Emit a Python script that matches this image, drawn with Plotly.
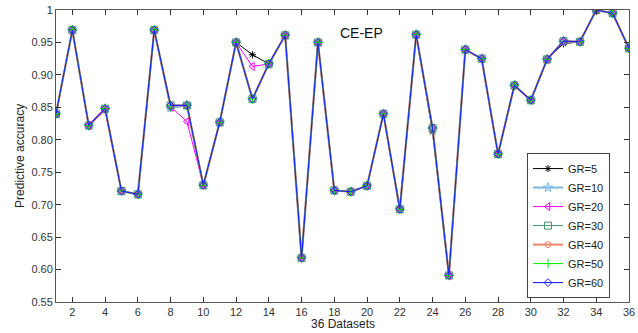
import plotly.graph_objects as go

datasets = list(range(1, 37))

gr60 = [0.840, 0.969, 0.822, 0.848, 0.721, 0.716, 0.969, 0.853, 0.853, 0.730,
        0.827, 0.950, 0.863, 0.917, 0.961, 0.618, 0.950, 0.722, 0.720, 0.729,
        0.840, 0.693, 0.962, 0.818, 0.591, 0.939, 0.925, 0.778, 0.884, 0.861,
        0.924, 0.952, 0.951, 1.000, 0.995, 0.941]
gr50 = [0.840, 0.969, 0.822, 0.848, 0.721, 0.716, 0.969, 0.853, 0.853, 0.730,
        0.827, 0.950, 0.863, 0.917, 0.961, 0.618, 0.950, 0.722, 0.720, 0.729,
        0.840, 0.693, 0.962, 0.818, 0.591, 0.939, 0.925, 0.778, 0.884, 0.861,
        0.924, 0.952, 0.951, 1.000, 0.995, 0.941]
gr40 = [0.840, 0.969, 0.822, 0.848, 0.721, 0.716, 0.969, 0.853, 0.853, 0.730,
        0.827, 0.950, 0.863, 0.917, 0.961, 0.618, 0.950, 0.722, 0.720, 0.729,
        0.840, 0.693, 0.962, 0.818, 0.591, 0.939, 0.925, 0.778, 0.884, 0.861,
        0.924, 0.952, 0.951, 1.000, 0.995, 0.941]
gr30 = [0.840, 0.969, 0.822, 0.848, 0.721, 0.716, 0.969, 0.853, 0.853, 0.730,
        0.827, 0.950, 0.863, 0.917, 0.961, 0.618, 0.950, 0.722, 0.720, 0.729,
        0.840, 0.693, 0.962, 0.818, 0.591, 0.939, 0.925, 0.778, 0.884, 0.861,
        0.924, 0.952, 0.951, 1.000, 0.995, 0.941]
gr20 = [0.840, 0.969, 0.822, 0.845, 0.721, 0.716, 0.969, 0.851, 0.828, 0.730,
        0.827, 0.950, 0.913, 0.917, 0.961, 0.618, 0.950, 0.722, 0.720, 0.729,
        0.840, 0.693, 0.962, 0.818, 0.591, 0.939, 0.925, 0.778, 0.884, 0.861,
        0.924, 0.952, 0.951, 1.000, 0.995, 0.941]
gr10 = [0.840, 0.969, 0.822, 0.848, 0.721, 0.716, 0.969, 0.849, 0.853, 0.730,
        0.827, 0.950, 0.863, 0.917, 0.961, 0.618, 0.950, 0.722, 0.720, 0.729,
        0.840, 0.693, 0.962, 0.818, 0.591, 0.939, 0.925, 0.778, 0.884, 0.861,
        0.924, 0.952, 0.951, 1.000, 0.995, 0.941]
gr5 = [0.840, 0.969, 0.822, 0.848, 0.721, 0.716, 0.969, 0.849, 0.853, 0.730,
       0.827, 0.950, 0.931, 0.917, 0.961, 0.618, 0.950, 0.722, 0.720, 0.729,
       0.840, 0.693, 0.962, 0.812, 0.591, 0.939, 0.925, 0.778, 0.884, 0.861,
       0.924, 0.948, 0.951, 1.000, 0.995, 0.941]

series_names = ["GR=5", "GR=10", "GR=20", "GR=30", "GR=40", "GR=50", "GR=60"]
x_ticks = list(range(2, 37, 2))
y_ticks = [0.55, 0.60, 0.65, 0.70, 0.75, 0.80, 0.85, 0.90, 0.95, 1.0]
y_tick_text = ["0.55", "0.60", "0.65", "0.70", "0.75", "0.80", "0.85", "0.90", "0.95", "1"]

styles = [
    dict(color="#000000", width=1, symbol="asterisk-open", size=6),
    dict(color="#7ab6e2", width=2.0, symbol="star-open", size=7),
    dict(color="#ff00ff", width=1, symbol="triangle-left-open", size=7),
    dict(color="#3f9a6e", width=1, symbol="square-open", size=7),
    dict(color="#ee8466", width=2.0, symbol="circle-open", size=6),
    dict(color="#00ee00", width=1, symbol="cross-thin-open", size=7),
    dict(color="#1f1fff", width=1.1, symbol="diamond-open", size=6),
]

fig = go.Figure()
for name, vals, st in zip(series_names, [gr5, gr10, gr20, gr30, gr40, gr50, gr60], styles):
    fig.add_trace(go.Scatter(
        x=datasets, y=vals, name=name, mode="lines+markers",
        line=dict(color=st["color"], width=st["width"]),
        marker=dict(symbol=st["symbol"], size=st["size"], color=st["color"],
                    line=dict(color=st["color"], width=1)),
    ))

axis_common = dict(showgrid=False, zeroline=False, showline=True, mirror="ticks",
                   linecolor="#555555", linewidth=1, ticks="inside", ticklen=5,
                   tickcolor="#333333", automargin=False,
                   tickfont=dict(family="Liberation Sans", size=11, color="#333333"))

fig.update_layout(
    width=638, height=333,
    margin=dict(l=56, r=9, t=10, b=31, autoexpand=False),
    paper_bgcolor="white", plot_bgcolor="white",
    font=dict(family="Liberation Sans", color="#222222"),
    xaxis=dict(range=[1, 36], tickvals=x_ticks, **axis_common),
    yaxis=dict(range=[0.55, 1.0], tickvals=y_ticks, ticktext=y_tick_text, **axis_common),
    legend=dict(x=0.822, y=0.51, xanchor="left", yanchor="top",
                bordercolor="#444444", borderwidth=1, bgcolor="white",
                font=dict(family="Liberation Sans", size=11, color="#222222"),
                tracegroupgap=0, itemwidth=30),
    showlegend=True,
    annotations=[
        dict(text="CE-EP", x=0.533, y=0.92, xref="paper", yref="paper",
             xanchor="center", yanchor="middle",
             showarrow=False, font=dict(family="Liberation Sans", size=14, color="#111111")),
        dict(text="36 Datasets", x=0.5, y=-0.045, xref="paper", yref="paper",
             xanchor="center", yanchor="top", showarrow=False,
             font=dict(family="Liberation Sans", size=12, color="#222222")),
        dict(text="Predictive accuracy", x=-0.063, y=0.5, xref="paper", yref="paper",
             xanchor="center", yanchor="middle", textangle=-90, showarrow=False,
             font=dict(family="Liberation Sans", size=12, color="#222222")),
    ],
)

fig.write_html("out.html", config={"displayModeBar": False},
               post_script="document.body.style.margin='0px';")
